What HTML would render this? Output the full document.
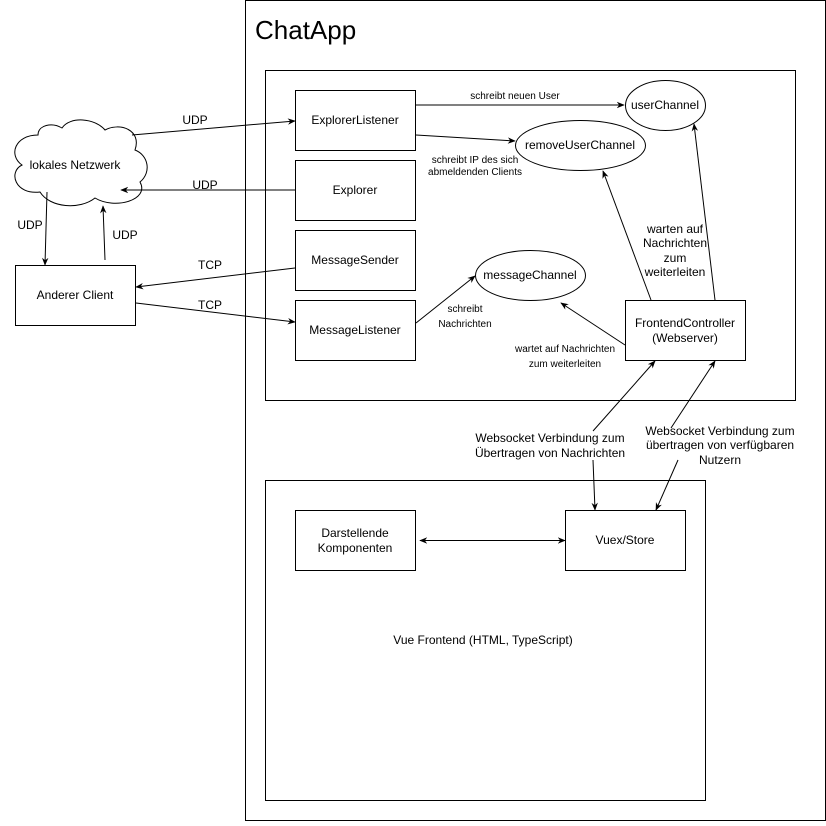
<!DOCTYPE html>
<html><head><meta charset="utf-8"><style>
body{margin:0;background:#fff}
text{font-family:"Liberation Sans",sans-serif;fill:#000}
</style></head><body>
<svg width="826" height="821" viewBox="0 0 826 821" xmlns="http://www.w3.org/2000/svg">
<defs><marker id="a" viewBox="0 0 10 10" refX="9" refY="5" markerWidth="8" markerHeight="8" orient="auto-start-reverse" markerUnits="userSpaceOnUse"><path d="M0,1 L10,5 L0,9 L3,5 Z" fill="#000"/></marker></defs>
<g fill="#fff" stroke="#000" stroke-width="1">
<rect x="245.5" y="0.5" width="580" height="820"/>
<rect x="265.5" y="70.5" width="530" height="330"/>
<rect x="265.5" y="480.5" width="440" height="320"/>
<rect x="295.5" y="90.5" width="120" height="60"/>
<rect x="295.5" y="160.5" width="120" height="60"/>
<rect x="295.5" y="230.5" width="120" height="60"/>
<rect x="295.5" y="300.5" width="120" height="60"/>
<rect x="15.5" y="265.5" width="120" height="60"/>
<rect x="625.5" y="300.5" width="120" height="60"/>
<rect x="295.5" y="510.5" width="120" height="60"/>
<rect x="565.5" y="510.5" width="120" height="60"/>
<ellipse cx="665.5" cy="105.5" rx="40" ry="25"/>
<ellipse cx="580.5" cy="145.5" rx="65" ry="25"/>
<ellipse cx="530.5" cy="275.5" rx="55" ry="25"/>
<path d="M38,135 C15,135 8,155 22,165 C8,172 15,195 40,192 C50,208 80,210 95,198 C115,210 150,200 140,182 C152,172 148,155 135,150 C142,130 120,122 105,130 C95,118 70,116 62,128 C52,122 38,125 38,135 Z"/>
</g>
<g stroke="#000" fill="none" marker-end="url(#a)">
<line x1="132" y1="135" x2="295" y2="121"/>
<line x1="295" y1="190" x2="121" y2="190"/>
<line x1="47" y1="192" x2="45" y2="265"/>
<line x1="105" y1="260" x2="103" y2="206"/>
<line x1="295" y1="268" x2="136" y2="287"/>
<line x1="136" y1="303" x2="295" y2="322"/>
<line x1="416" y1="105" x2="624" y2="105"/>
<line x1="416" y1="135" x2="515" y2="141"/>
<line x1="416" y1="323" x2="475" y2="276"/>
<line x1="625" y1="345" x2="561" y2="303"/>
<line x1="651" y1="300" x2="603" y2="171"/>
<line x1="715" y1="300" x2="694" y2="124"/>
<line x1="593" y1="431" x2="655" y2="361"/>
<line x1="593" y1="460" x2="595" y2="510"/>
<line x1="671" y1="428" x2="715" y2="361"/>
<line x1="678" y1="460" x2="656" y2="510"/>
<line x1="420" y1="540.5" x2="565" y2="540.5" marker-start="url(#a)"/>
</g>
<text x="255" y="39" font-size="26">ChatApp</text>
<g font-size="12" text-anchor="middle">
<text x="355" y="124">ExplorerListener</text>
<text x="355" y="194">Explorer</text>
<text x="355" y="264">MessageSender</text>
<text x="355" y="334">MessageListener</text>
<text x="75" y="299">Anderer Client</text>
<text x="685" y="327">FrontendController</text>
<text x="685" y="342">(Webserver)</text>
<text x="355" y="537">Darstellende</text>
<text x="355" y="552">Komponenten</text>
<text x="625" y="544">Vuex/Store</text>
<text x="665" y="109">userChannel</text>
<text x="580" y="149">removeUserChannel</text>
<text x="530" y="279">messageChannel</text>
<text x="75" y="169">lokales Netzwerk</text>
<text x="195" y="124">UDP</text>
<text x="205" y="189">UDP</text>
<text x="30" y="229">UDP</text>
<text x="125" y="239">UDP</text>
<text x="210" y="269">TCP</text>
<text x="210" y="309">TCP</text>
<text x="675" y="233">warten auf</text>
<text x="675" y="247">Nachrichten</text>
<text x="675" y="262">zum</text>
<text x="675" y="276">weiterleiten</text>
<text x="550" y="442">Websocket Verbindung zum</text>
<text x="550" y="457">Übertragen von Nachrichten</text>
<text x="720" y="435">Websocket Verbindung zum</text>
<text x="720" y="449">übertragen von verfügbaren</text>
<text x="720" y="464">Nutzern</text>
<text x="483" y="644">Vue Frontend (HTML, TypeScript)</text>
</g>
<g font-size="10" text-anchor="middle">
<text x="515" y="99">schreibt neuen User</text>
<text x="475" y="163">schreibt IP des sich</text>
<text x="475" y="175">abmeldenden Clients</text>
<text x="465" y="312">schreibt</text>
<text x="465" y="327">Nachrichten</text>
<text x="565" y="352">wartet auf Nachrichten</text>
<text x="565" y="367">zum weiterleiten</text>
</g>
</svg>
</body></html>
